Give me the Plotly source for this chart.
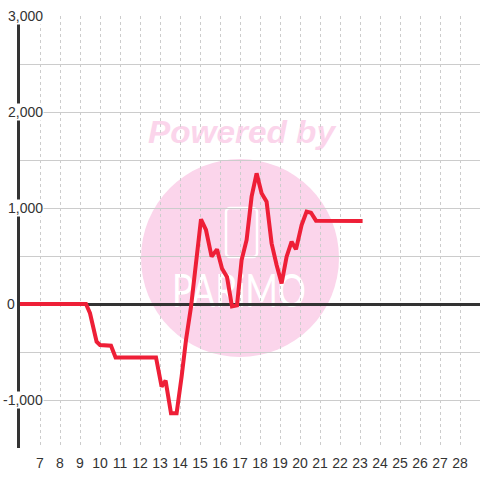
import base64
import plotly.graph_objects as go

# ---- data ----
day = [6, 9.3, 9.5, 9.83, 10.0, 10.55, 10.78, 12.8, 13.08, 13.28, 13.55, 13.83, 14.08,
       14.3, 14.55, 14.8, 15.05, 15.3, 15.58, 15.85, 16.1, 16.35, 16.6, 16.85, 17.08,
       17.33, 17.58, 17.83, 18.08, 18.33, 18.58, 18.83, 19.08, 19.33, 19.58, 19.8,
       20.08, 20.33, 20.55, 20.8, 23.13]
value = [0, 0, -96, -392, -427, -434, -556, -556, -861, -799, -1139, -1139, -757,
         -375, -30, 420, 882, 771, 493, 569, 370, 282, -25, -15, 458,
         667, 1118, 1361, 1153, 1066, 632, 406, 215, 493, 649, 569,
         823, 962, 951, 868, 865]

x_tick_vals = list(range(7, 29))
x_tick_text = [str(v) for v in x_tick_vals]
y_tick_vals = [-1000, 0, 1000, 2000, 3000]
y_tick_text = ["-1,000", "0", "1,000", "2,000", "3,000"]

X_RANGE = [6, 29]
Y_RANGE = [-1500, 3000]

LINE_COLOR = "#ee1f37"
AXIS_COLOR = "#333333"
GRID_COLOR = "#cccccc"
PINK = "#fbd5eb"
FONT = "Liberation Sans, Arial, sans-serif"

W, H = 480, 480
ML, MR, MT, MB = 20, 0, 16, 32
PW, PH = W - ML - MR, H - MT - MB

fig = go.Figure()
fig.add_trace(go.Scatter(x=day, y=value, mode="lines",
                         line=dict(color=LINE_COLOR, width=4), hoverinfo="skip"))

# watermark (decorative), drawn below the grid
svg = f'''<svg xmlns="http://www.w3.org/2000/svg" width="{PW}" height="{PH}" viewBox="0 0 {PW} {PH}">
<circle cx="220" cy="242" r="99" fill="{PINK}"/>
<text x="128" y="127" font-family="Liberation Sans, Arial, sans-serif" font-weight="bold" font-style="italic" font-size="31" fill="{PINK}" textLength="187" lengthAdjust="spacingAndGlyphs">Powered by</text>
<rect x="206" y="192" width="31" height="49" rx="4" fill="none" stroke="white" stroke-width="2.5"/>
<text x="152" y="291" font-family="Lato, DejaVu Sans, sans-serif" font-weight="400" font-size="46" fill="white" textLength="134" lengthAdjust="spacingAndGlyphs">PARiMO</text>
</svg>'''
src = "data:image/svg+xml;base64," + base64.b64encode(svg.encode()).decode()
fig.add_layout_image(dict(source=src, xref="x", yref="y", x=X_RANGE[0], y=Y_RANGE[1],
                          sizex=X_RANGE[1] - X_RANGE[0], sizey=Y_RANGE[1] - Y_RANGE[0],
                          sizing="stretch", xanchor="left", yanchor="top", layer="below"))

# y labels as boxed annotations overlapping the axis
for v, t in zip(y_tick_vals, y_tick_text):
    right_px = 16 if len(t) == 1 else 44
    fig.add_annotation(x=(right_px - ML) / PW, xref="paper", y=v, yref="y",
                       text=t, showarrow=False, xanchor="right", yanchor="middle",
                       bgcolor="white", borderpad=0,
                       font=dict(family=FONT, size=14, color=AXIS_COLOR))

fig.update_xaxes(range=X_RANGE, tickvals=x_tick_vals, ticktext=x_tick_text,
                 showgrid=True, gridcolor=GRID_COLOR, gridwidth=1, griddash="3px,3px",
                 zeroline=False, showline=False, ticks="", ticklabelstandoff=5,
                 tickfont=dict(family=FONT, size=14, color=AXIS_COLOR))
fig.update_yaxes(range=Y_RANGE, dtick=500, tick0=0, showticklabels=False,
                 showgrid=True, gridcolor=GRID_COLOR, gridwidth=1,
                 zeroline=True, zerolinecolor=AXIS_COLOR, zerolinewidth=3,
                 showline=True, linecolor=AXIS_COLOR, linewidth=3, ticks="")

fig.update_layout(width=W, height=H, margin=dict(l=ML, r=MR, t=MT, b=MB),
                  paper_bgcolor="white", plot_bgcolor="white", showlegend=False)

fig.write_html("out.html", config={"displayModeBar": False},
               post_script="document.body.style.margin='0';")
